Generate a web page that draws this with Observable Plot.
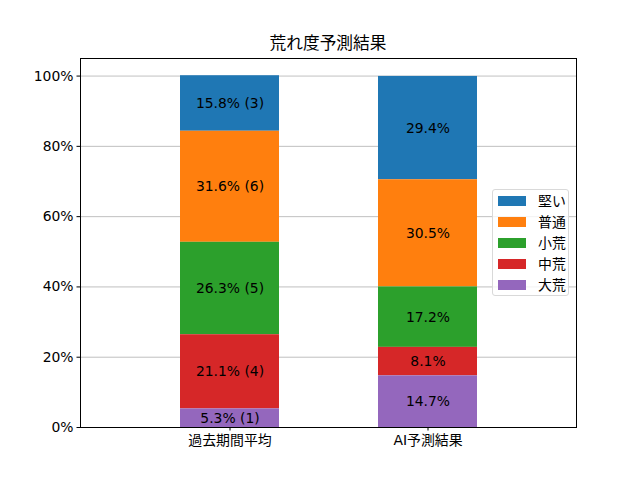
<!DOCTYPE html>
<html>
<head>
<meta charset="utf-8">
<script src="https://cdn.jsdelivr.net/npm/d3@7"></script>
<script src="https://cdn.jsdelivr.net/npm/@observablehq/plot@0.6"></script>
<style>
  body { margin: 0; background: #fff; font-family: "DejaVu Sans", "Noto Sans CJK JP", sans-serif; }
  #wrap { position: relative; width: 640px; height: 480px; }
  #title { position: absolute; left: 80px; width: 496px; top: 33px; text-align: center; font-size: 16.7px; line-height: 20px; color: #000; }
  #legend { position: absolute; left: 492px; top: 189px; width: 77px; height: 107px; box-sizing: border-box;
    border: 1px solid #d9d9d9; border-radius: 3px; background: rgba(255,255,255,0.8); padding: 0 0 0 5px; font-size: 13.9px; }
  .row { display: flex; align-items: center; height: 21.2px; line-height: 16px; }
  .sw { width: 28px; height: 10px; margin-right: 12px; }
</style>
</head>
<body>
<div id="wrap">
  <div id="chart"></div>
  <div id="title">荒れ度予測結果</div>
  <div id="legend"></div>
</div>
<script>
const groups = ["過去期間平均", "AI予測結果"];
const levels = ["堅い", "普通", "小荒", "中荒", "大荒"];
const stackOrder = ["大荒", "中荒", "小荒", "普通", "堅い"];
const colors = ["#1f77b4", "#ff7f0e", "#2ca02c", "#d62728", "#9467bd"];
// shares per level (order = levels)
const pastShare = [0.158, 0.316, 0.263, 0.211, 0.053];
const pastCount = [3, 6, 5, 4, 1];
const aiShare = [0.294, 0.305, 0.172, 0.081, 0.147];
const yTicks = [0, 0.2, 0.4, 0.6, 0.8, 1.0];

const data = [];
levels.forEach((lv, i) => {
  data.push({group: groups[0], level: lv, value: pastShare[i], label: `${(pastShare[i]*100).toFixed(1)}% (${pastCount[i]})`});
  data.push({group: groups[1], level: lv, value: aiShare[i], label: `${(aiShare[i]*100).toFixed(1)}%`});
});

const chart = Plot.plot({
  width: 640,
  height: 480,
  marginLeft: 80,
  marginRight: 64,
  marginTop: 58,
  marginBottom: 53,
  style: {fontFamily: '"DejaVu Sans", "Noto Sans CJK JP", sans-serif', fontSize: "13.9px", color: "#000", background: "#fff"},
  x: {type: "band", domain: groups, padding: 0.5, label: null},
  y: {domain: [0, 1.05], label: null},
  color: {domain: levels, range: colors},
  marks: [
    Plot.gridY(yTicks, {stroke: "#b0b0b0", strokeOpacity: 1, strokeWidth: 0.8}),
    Plot.barY(data, Plot.stackY({x: "group", y: "value", z: "level", fill: "level", order: stackOrder, inset: 0})),
    Plot.text(data, Plot.stackY({x: "group", y: "value", z: "level", text: "label", order: stackOrder, fill: "black", fontSize: 13.9})),
    Plot.axisY({ticks: yTicks, tickFormat: d3.format(".0%"), tickSize: 3.5, tickPadding: 3.5, fontSize: 13.9, label: null}),
    Plot.axisX({tickSize: 3.5, tickPadding: 4, fontSize: 13.9, label: null}),
    Plot.frame({stroke: "black", strokeWidth: 1})
  ]
});
document.getElementById("chart").appendChild(chart);

const lg = document.getElementById("legend");
levels.forEach((lv, i) => {
  const r = document.createElement("div");
  r.className = "row";
  r.innerHTML = `<div class="sw" style="background:${colors[i]}"></div><span>${lv}</span>`;
  lg.appendChild(r);
});
</script>
</body>
</html>
